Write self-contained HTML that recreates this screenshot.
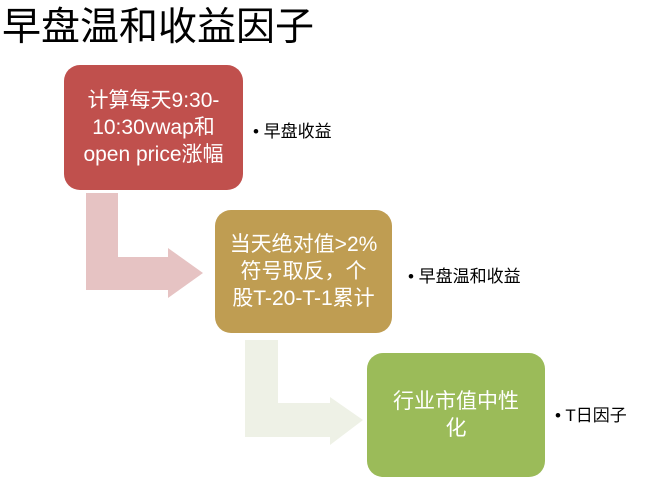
<!DOCTYPE html>
<html><head><meta charset="utf-8"><style>
body{margin:0;width:648px;height:483px;background:#fff;position:relative;overflow:hidden;font-family:"Liberation Sans","Noto Sans CJK SC",sans-serif}
.t{position:absolute;left:2px;top:4px;font-size:39px;color:#000;white-space:nowrap;line-height:48px}
.b{position:absolute;border-radius:16px;color:#fff;font-size:21px;line-height:27px;display:flex;align-items:center;justify-content:center;text-align:center;white-space:nowrap}
.l{position:absolute;font-size:17px;color:#000;white-space:nowrap}
</style></head><body>
<div class="t">早盘温和收益因子</div>
<svg width="648" height="483" style="position:absolute;left:0;top:0">
<polygon points="86,193 118,193 118,257 168,257 168,248 203,273 168,298 168,290 86,290" fill="#e6c3c3"/>
<polygon points="245,340 278,340 278,403 330,403 330,397 363,420 330,445 330,437 245,437" fill="#eef1e6"/>
</svg>
<div class="b" style="left:64px;top:65px;width:179px;height:125px;background:#c0504d">计算每天9:30-<br>10:30vwap和<br>open price涨幅</div>
<div class="b" style="left:215px;top:210px;width:177px;height:123px;background:#bf9d52">当天绝对值&gt;2%<br>符号取反，个<br>股T-20-T-1累计</div>
<div class="b" style="left:367px;top:353px;width:178px;height:124px;background:#9bbb59">行业市值中性<br>化</div>
<div class="l" style="left:253px;top:117px">• 早盘收益</div>
<div class="l" style="left:408px;top:262px">• 早盘温和收益</div>
<div class="l" style="left:555px;top:401px">• T日因子</div>
</body></html>
